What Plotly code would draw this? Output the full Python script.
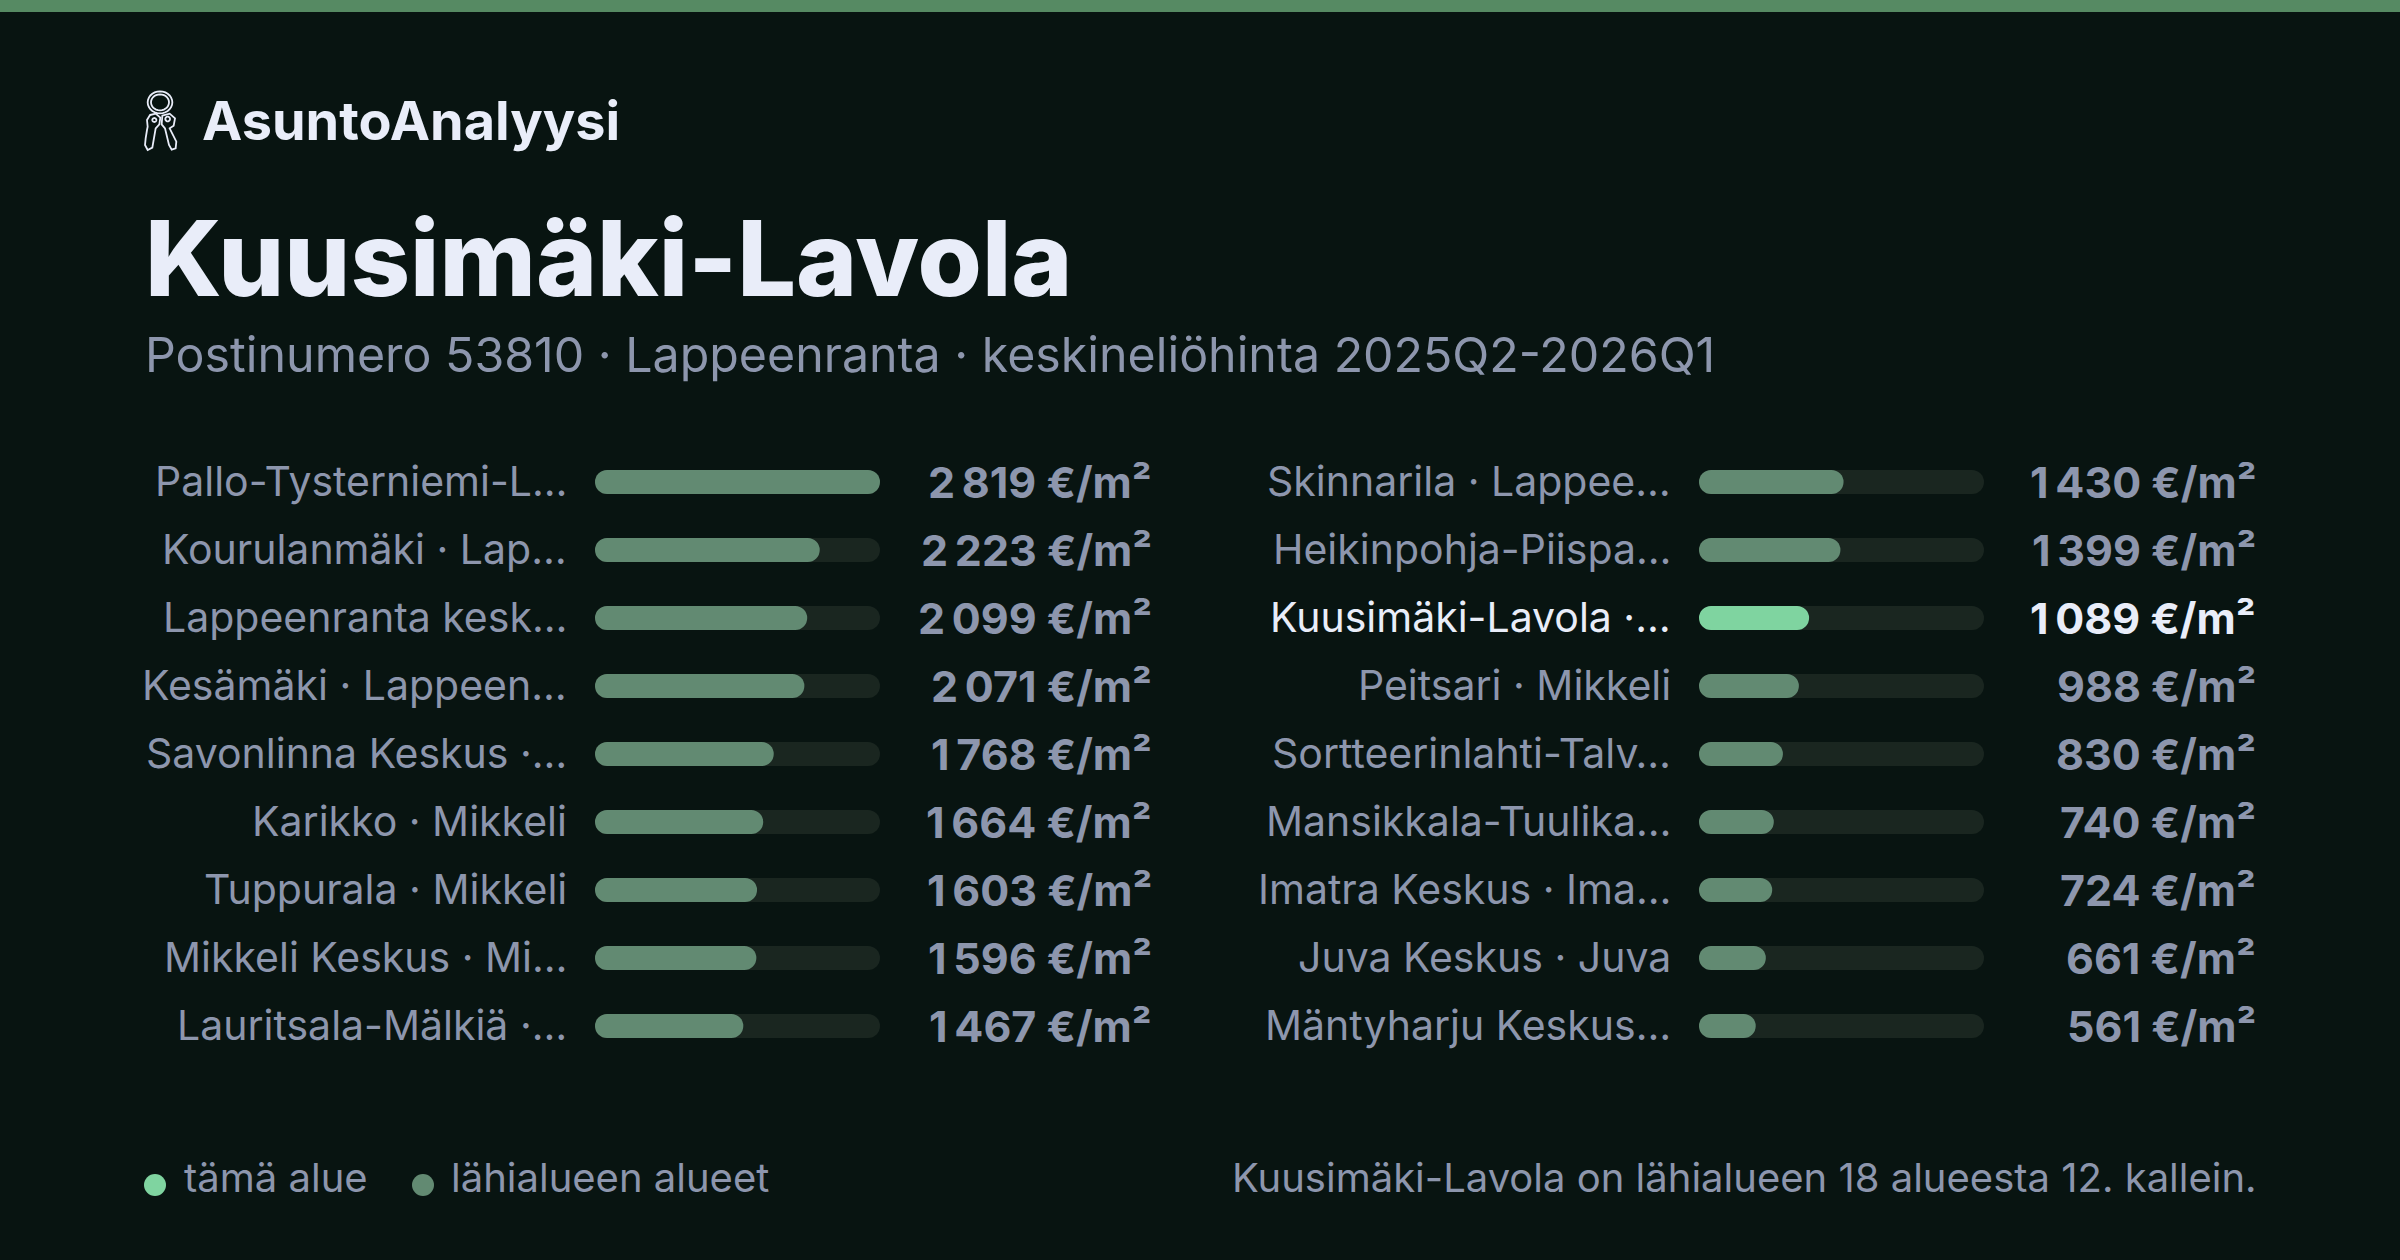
import math
import plotly.graph_objects as go

W, H = 2400, 1260
left_labels = ["Pallo-Tysterniemi-L…", "Kourulanmäki · Lap…", "Lappeenranta kesk…", "Kesämäki · Lappeen…", "Savonlinna Keskus ·…", "Karikko · Mikkeli", "Tuppurala · Mikkeli", "Mikkeli Keskus · Mi…", "Lauritsala-Mälkiä ·…"]
left_values = [2819, 2223, 2099, 2071, 1768, 1664, 1603, 1596, 1467]
right_labels = ["Skinnarila · Lappee…", "Heikinpohja-Piispa…", "Kuusimäki-Lavola ·…", "Peitsari · Mikkeli", "Sortteerinlahti-Talv…", "Mansikkala-Tuulika…", "Imatra Keskus · Ima…", "Juva Keskus · Juva", "Mäntyharju Keskus…"]
right_values = [1430, 1399, 1089, 988, 830, 740, 724, 661, 561]
highlight = "Kuusimäki-Lavola ·…"
max_value = 2819

BG = "#081411"; TRACK = "#1a2620"; FILL = "#628a72"; HI = "#7fd4a0"
GREY = "#8d96ad"; WHITE = "#e9edf9"; STRIP = "#568a63"
FONT = "Inter"

fmt = lambda v: f"{v:,}".replace(",", "\u2009") + " €/m²"
px = lambda v: v / W
py = lambda v: 1 - v / H

fig = go.Figure()
columns = [("x", "y", left_labels, left_values, 595, 880, 569, 1154),
           ("x2", "y2", right_labels, right_values, 1699, 1984, 1673, 2258)]
anns = []
TOP, BOTTOM = 448, 1060
for xa, ya, labels, values, x0, x1, lab_r, val_r in columns:
    n = len(labels)
    colors = [HI if l == highlight else FILL for l in labels]
    common = dict(y=labels, xaxis=xa, yaxis=ya, showlegend=False, hoverinfo="skip", orientation="h", width=24 / 68)
    # an explicit base makes plotly round both ends of each bar
    fig.add_bar(x=[max_value] * n, base=[0] * n, marker=dict(color=TRACK, line_width=0), **common)
    fig.add_bar(x=values, base=[0] * n, marker=dict(color=colors, line_width=0), **common)
    for i, (l, v) in enumerate(zip(labels, values)):
        yc = TOP + 34 + 68 * i
        c = WHITE if l == highlight else GREY
        anns.append(dict(x=px(lab_r), y=py(yc - 1), text=l, xanchor="right", font=dict(size=41, color=c)))
        anns.append(dict(x=px(val_r), y=py(yc), text=f"<b>{fmt(v)}</b>", xanchor="right", font=dict(size=43, color=c)))
    axis = dict(range=[0, max_value], visible=False, domain=[px(x0), px(x1)], anchor=ya)
    yaxis = dict(visible=False, domain=[py(BOTTOM), py(TOP)], range=[n - 0.5, -0.5], anchor=xa,
                 type="category", categoryorder="array", categoryarray=labels)
    fig.update_layout({"xaxis" if xa == "x" else "xaxis2": axis, "yaxis" if ya == "y" else "yaxis2": yaxis})

anns += [
    dict(x=px(200), y=py(121), text="AsuntoAnalyysi", xanchor="left", font=dict(size=54, color=WHITE, weight=700)),
    dict(x=px(143), y=py(258), text="Kuusimäki-Lavola", xanchor="left", font=dict(size=104, color=WHITE, weight=800)),
    dict(x=px(143), y=py(354), text="Postinumero 53810 · Lappeenranta · keskineliöhinta 2025Q2-2026Q1", xanchor="left", font=dict(size=48.3, color=GREY)),
    dict(x=px(182), y=py(1177), text="tämä alue", xanchor="left", font=dict(size=40, color=GREY)),
    dict(x=px(449), y=py(1177), text="lähialueen alueet", xanchor="left", font=dict(size=40, color=GREY)),
    dict(x=px(2259), y=py(1177), text="Kuusimäki-Lavola on lähialueen 18 alueesta 12. kallein.", xanchor="right", font=dict(size=40, color=GREY)),
]
for a in anns:
    a.update(xref="paper", yref="paper", yanchor="middle", showarrow=False)

def icon_path(pts, closed=True):
    out = []
    for i, (a, b) in enumerate(pts):
        out.append(("M" if i == 0 else "L") + f"{px(135 + a / 3):.5f},{py(85 + b / 3):.5f}")
    return " ".join(out) + (" Z" if closed else "")

def ellipse_pts(cx, cy, rx, ry, n=28):
    return [(cx + rx * math.cos(2 * math.pi * k / n), cy + ry * math.sin(2 * math.pi * k / n)) for k in range(n)]

icon_shapes = [ellipse_pts(75, 52, 37, 33), ellipse_pts(75, 52, 27, 24),
               [(45, 90), (62, 86), (76, 98), (73, 118), (62, 130), (52, 188), (38, 195), (30, 180), (32, 160), (36, 135), (38, 125), (36, 105)],
               [(82, 92), (104, 86), (120, 100), (116, 122), (104, 130), (124, 170), (122, 190), (110, 194), (102, 180), (90, 130), (80, 118)],
               ellipse_pts(58, 105, 6, 6), ellipse_pts(98, 102, 7, 7)]

shapes = [
    dict(type="rect", xref="paper", yref="paper", x0=0, x1=1, y0=py(12), y1=1, fillcolor=STRIP, line_width=0),
    dict(type="circle", xref="paper", yref="paper", x0=px(144), x1=px(166), y0=py(1196), y1=py(1174), fillcolor=HI, line_width=0),
    dict(type="circle", xref="paper", yref="paper", x0=px(412), x1=px(434), y0=py(1196), y1=py(1174), fillcolor=FILL, line_width=0),
] + [dict(type="path", xref="paper", yref="paper", path=icon_path(p), line=dict(color=WHITE, width=1.8)) for p in icon_shapes]
fig.update_layout(width=W, height=H, margin=dict(l=0, r=0, t=0, b=0), paper_bgcolor=BG, plot_bgcolor=BG,
                  barmode="overlay", barcornerradius=12, font=dict(family=FONT), annotations=anns, shapes=shapes)
fig.write_html("out.html", config=dict(displayModeBar=False),
               post_script="document.body.style.margin='0';document.body.style.overflow='hidden';")
